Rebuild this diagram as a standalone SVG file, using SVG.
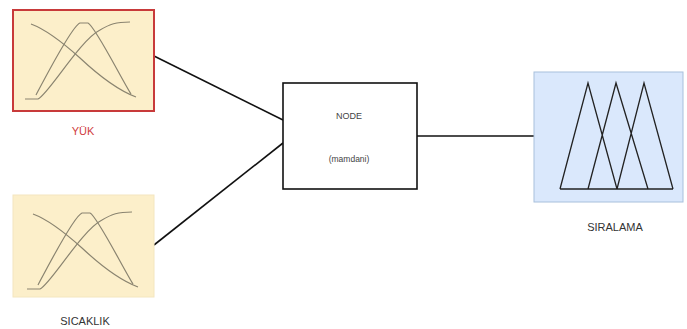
<svg xmlns="http://www.w3.org/2000/svg" width="687" height="329" viewBox="0 0 687 329">
<style>
.curve{fill:none;stroke:#8a8470;stroke-width:1.2}
.lbl{font-family:"Liberation Sans",Arial,sans-serif;font-size:11px;text-anchor:middle;fill:#333}
.conn{stroke:#111;stroke-width:1.6;fill:none}
.tri{fill:none;stroke:#222;stroke-width:1.3;stroke-linejoin:miter}
</style>
<defs>
<g id="mf">
<path class="curve" d="M31,24 Q50,31 80,58 Q112,88 136,97"/>
<path class="curve" d="M36,95 C45,78 72,26 80,23 L88,23 C95,26 122,80 131,94"/>
<path class="curve" d="M25,99 L38,99 C48,95 80,40 100,30 C110,24 116,22 130,22"/>
</g>
</defs>
<rect width="687" height="329" fill="#ffffff"/>
<g id="connectors">
<line class="conn" x1="154" y1="56" x2="283" y2="120"/>
<line class="conn" x1="154" y1="245" x2="283" y2="143"/>
<line class="conn" x1="417" y1="136" x2="534" y2="136"/>
</g>
<g id="yuk">
<rect x="13" y="10" width="141" height="101" fill="#fcefca" stroke="#c83a3a" stroke-width="2"/>
<use href="#mf"/>
<text class="lbl" x="83" y="135" style="fill:#d04040">YÜK</text>
</g>
<g id="sicaklik">
<rect x="13" y="195" width="141" height="102" fill="#fcefca" stroke="#f4e6bf" stroke-width="1"/>
<use href="#mf" transform="translate(2,190)"/>
<text class="lbl" x="85" y="325">SICAKLIK</text>
</g>
<g id="node">
<rect x="283" y="83" width="134" height="106" fill="#ffffff" stroke="#111" stroke-width="1.6"/>
<text class="lbl" x="349" y="119" style="font-size:9px;fill:#444">NODE</text>
<text class="lbl" x="349" y="162" style="font-size:8.5px;fill:#444">(mamdani)</text>
</g>
<g id="siralama">
<rect x="534" y="72" width="149" height="130" fill="#dae8fc" stroke="#a8c0dc" stroke-width="1"/>
<path class="tri" d="M560,189 L588,83 L617,189 M588,189 L616,83 L648,189 M617,189 L644,83 L673,189 M560,189 L673,189"/>
<text class="lbl" x="615" y="231">SIRALAMA</text>
</g>
</svg>
